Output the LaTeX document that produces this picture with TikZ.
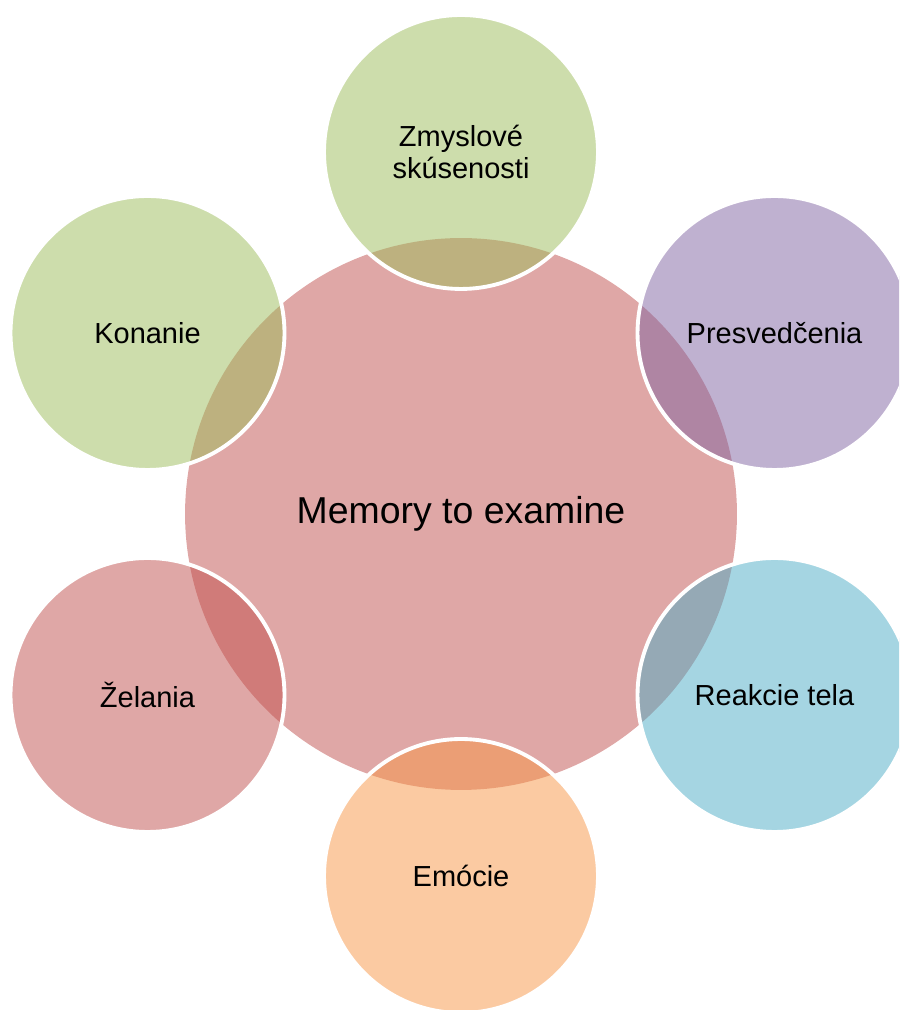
\documentclass[tikz,border=0pt]{standalone}
\usepackage{fontspec}
\setmainfont{Liberation Sans}
\usetikzlibrary{calc}

\definecolor{accred}{HTML}{C0504D}
\definecolor{accgreen}{HTML}{9BBB59}
\definecolor{accpurple}{HTML}{8064A2}
\definecolor{accblue}{HTML}{4BACC6}
\definecolor{accorange}{HTML}{F79646}

\tikzset{
  hub/.style={circle, minimum size=11.04cm, inner sep=0pt, fill=accred,
    fill opacity=0.5, text opacity=1, font=\fontsize{21.3}{24}\selectfont},
  bubble/.style={circle, minimum size=5.48cm, inner sep=0pt, draw=white,
    line width=2.2pt, fill opacity=0.5, draw opacity=1, text opacity=1,
    align=center, font=\fontsize{16.5}{17.7}\selectfont}
}

\begin{document}
\begin{tikzpicture}[x=0.02cm, y=0.02cm]
    \clip (0,0) rectangle (899,1010);

    % Central memory circle
    \node [hub] (memory) at (461,496) {Memory to examine};

    % Satellites around it
    \node [bubble, fill=accgreen]  (zmysly)  at ($(memory.center)+(90:362)$)  {Zmyslové\\skúsenosti};
    \node [bubble, fill=accpurple] (presv)   at ($(memory.center)+(30:362)$)  {Presvedčenia};
    \node [bubble, fill=accblue]   (reakcie) at ($(memory.center)+(-30:362)$) {Reakcie tela};
    \node [bubble, fill=accorange] (emocie)  at ($(memory.center)+(-90:362)$) {Emócie};
    \node [bubble, fill=accred]    (zelania) at ($(memory.center)+(210:362)$) {Želania};
    \node [bubble, fill=accgreen]  (konanie) at ($(memory.center)+(150:362)$) {Konanie};
\end{tikzpicture}
\end{document}
